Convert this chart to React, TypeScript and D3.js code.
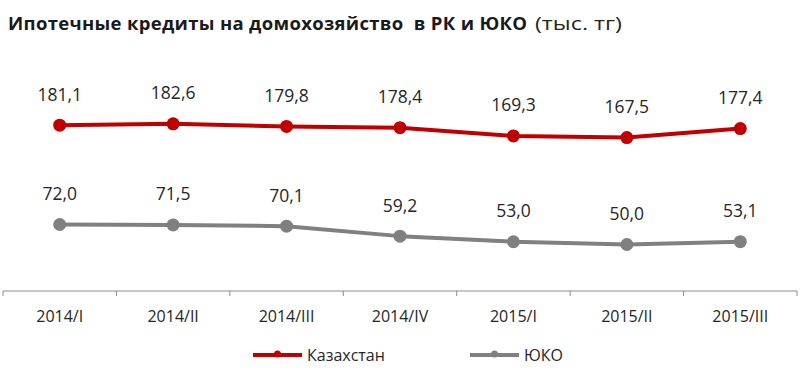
import React from "react";
import * as d3 from "d3";

const categories = ["2014/I", "2014/II", "2014/III", "2014/IV", "2015/I", "2015/II", "2015/III"];
const kazakhstan = [181.1, 182.6, 179.8, 178.4, 169.3, 167.5, 177.4];
const yuko = [72.0, 71.5, 70.1, 59.2, 53.0, 50.0, 53.1];
const seriesNames = ["Казахстан", "ЮКО"];
const seriesColors = ["#C00000", "#808080"];
const titleMain = "Ипотечные кредиты на домохозяйство  в РК и ЮКО";
const titleUnit = "(тыс. тг)";

const W = 800;
const H = 374;
const FONT = "'Open Sans', 'Noto Sans', sans-serif";

export default function App() {
  const x = d3.scaleBand<string>().domain(categories).range([3, 797]);
  const y = d3.scaleLinear().domain([0, 200]).range([290, 108]);
  const line = d3
    .line<number>()
    .x((_, i) => (x(categories[i]) as number) + x.bandwidth() / 2)
    .y((d) => y(d));
  const fmt = (v: number) => v.toFixed(1).replace(".", ",");
  const series = [kazakhstan, yuko];
  const ticks = [...categories.map((c) => x(c) as number), 797];
  const legendX = [253, 470];

  return (
    <svg
      width={W}
      height={H}
      style={{ position: "absolute", left: 0, top: 0, background: "#fff", whiteSpace: "pre" }}
      fontFamily={FONT}
    >
      <text x={8} y={30} fontSize={18.5} fontWeight="bold" fill="#1a1a1a" textLength={519} lengthAdjust="spacing" xmlSpace="preserve">
        {titleMain}
      </text>
      <text x={535} y={30} fontSize={18} fill="#262626" textLength={87} lengthAdjust="spacingAndGlyphs">
        {titleUnit}
      </text>
      {series.map((s, si) => (
        <g key={si}>
          <path d={line(s) || ""} fill="none" stroke={seriesColors[si]} strokeWidth={4} strokeLinejoin="round" />
          {s.map((v, i) => {
            const cx = (x(categories[i]) as number) + x.bandwidth() / 2;
            return (
              <g key={i}>
                <circle cx={cx} cy={y(v)} r={6.5} fill={seriesColors[si]} />
                <text x={cx} y={y(v) - 24.5} textAnchor="middle" fontSize={17.5} fill="#262626">
                  {fmt(v)}
                </text>
              </g>
            );
          })}
        </g>
      ))}
      <line x1={3} x2={797} y1={291} y2={291} stroke="#8c8c8c" strokeWidth={1} />
      {ticks.map((t, i) => (
        <line key={i} x1={t} x2={t} y1={291} y2={296} stroke="#8c8c8c" strokeWidth={1} />
      ))}
      {categories.map((c) => (
        <text
          key={c}
          x={(x(c) as number) + x.bandwidth() / 2}
          y={322}
          textAnchor="middle"
          fontSize={16}
          fill="#262626"
        >
          {c}
        </text>
      ))}
      {seriesNames.map((n, i) => (
        <g key={n}>
          <line x1={legendX[i]} x2={legendX[i] + 49} y1={355} y2={355} stroke={seriesColors[i]} strokeWidth={4} />
          <circle cx={legendX[i] + 24.5} cy={354} r={3.5} fill={seriesColors[i]} />
          <text x={legendX[i] + 54} y={361} fontSize={16} fill="#262626">
            {n}
          </text>
        </g>
      ))}
    </svg>
  );
}
